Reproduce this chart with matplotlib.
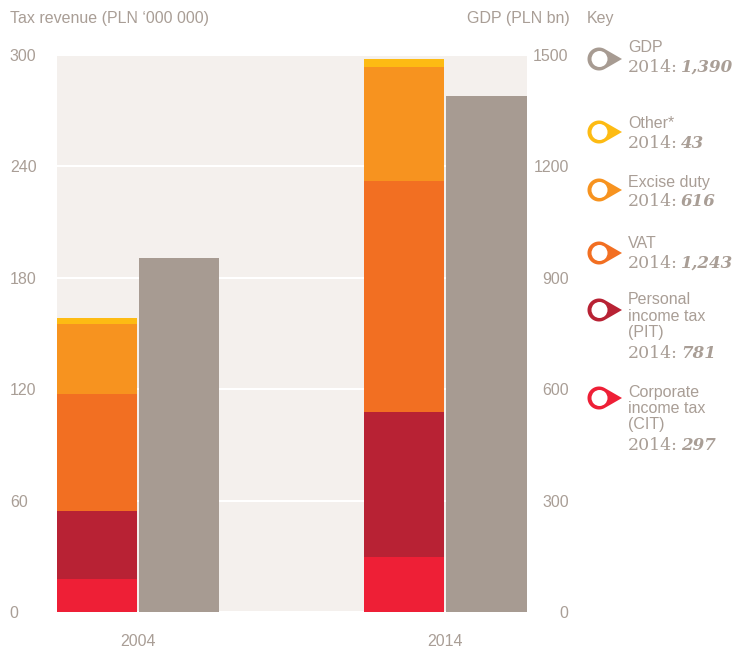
import numpy as np
import matplotlib
matplotlib.use("Agg")
from matplotlib import pyplot as plt
from matplotlib.patches import Polygon, Circle

years = ["2004", "2014"]
cit = [17.8, 29.7]
pit = [36.6, 78.1]
vat = [63.0, 124.3]
excise = [37.7, 61.6]
other = [3.2, 4.3]
gdp = [953, 1390]

tax_ticks = [0, 60, 120, 180, 240, 300]
gdp_ticks = [0, 300, 600, 900, 1200, 1500]

series = [("Corporate\nincome tax\n(CIT)", cit, "#ee1f36"),
          ("Personal\nincome tax\n(PIT)", pit, "#b82234"),
          ("VAT", vat, "#f26f22"),
          ("Excise duty", excise, "#f7931f"),
          ("Other*", other, "#fdbb13")]
gdp_color = "#a79b92"
txt = "#a99e96"
bg = "#f4f0ed"
sans = "Liberation Sans"

fig = plt.figure(figsize=(7.37, 6.49), dpi=100)
W, H = 737, 649
ax = fig.add_axes([57 / W, 1 - 612 / H, 470 / W, 557 / H])
ax2 = ax.twinx()

x = np.arange(len(years))
w = 80 / 307.5
g = 2 / 307.5
xs = x - w / 2 - g / 2
xg = x + w / 2 + g / 2

ax.set_facecolor(bg)
bottom = np.zeros(len(years))
for name, vals, col in series:
    ax.bar(xs, vals, w, bottom=bottom, color=col, linewidth=0, zorder=3)
    bottom += np.array(vals)
ax2.bar(xg, gdp, w, color=gdp_color, linewidth=0, zorder=3)

ax.set_xlim(-81 / 307.5, 1 + 81.5 / 307.5)
ax.set_ylim(0, 300)
ax2.set_ylim(0, 1500)
ax.set_yticks(tax_ticks)
ax2.set_yticks(gdp_ticks)
ax.set_xticks(x)
ax.set_xticklabels(years)
ax.grid(axis="y", color="white", linewidth=1.5, zorder=1)
ax.set_axisbelow(True)
for a in (ax, ax2):
    for s in a.spines.values():
        s.set_visible(False)
ax.tick_params(axis="both", length=0, labelcolor=txt, labelsize=11.5)
ax.tick_params(axis="y", pad=34)
ax.tick_params(axis="x", pad=16)
for t in ax.get_yticklabels() + ax.get_xticklabels():
    t.set_fontfamily(sans)
for t in ax.get_yticklabels():
    t.set_ha("left")
ax2.tick_params(axis="y", length=0, labelcolor=txt, labelsize=11.5, pad=30)
for t in ax2.get_yticklabels():
    t.set_ha("right")
    t.set_fontfamily(sans)

# overlay in pixel coordinates for titles and key
ov = fig.add_axes([0, 0, 1, 1], facecolor="none")
ov.set_xlim(0, W)
ov.set_ylim(H, 0)
ov.axis("off")

ov.text(10, 18, "Tax revenue (PLN \u2018000 000)", color=txt, fontsize=11.5,
        family=sans, va="center", ha="left")
ov.text(570, 18, "GDP (PLN bn)", color=txt, fontsize=11.5, family=sans,
        va="center", ha="right")
ov.text(587, 18, "Key", color=txt, fontsize=11.5, family=sans, va="center")


def pin(cx, cy, col, r=11.5, tip=23):
    th = np.arccos(r / tip)
    ang = np.linspace(th, 2 * np.pi - th, 60)
    pts = np.column_stack([cx + r * np.cos(ang), cy + r * np.sin(ang)])
    pts = np.vstack([pts, [cx + tip, cy]])
    ov.add_patch(Polygon(pts, closed=True, color=col, lw=0))
    ov.add_patch(Circle((cx + 0.5, cy), 8, color="white", lw=0))


renderer = fig.canvas.get_renderer()


def key(cy, label, col, val, ty):
    pin(599, cy, col)
    lines = label.split("\n")
    y = ty
    for ln in lines:
        ov.text(628, y, ln, color=txt, fontsize=11.5, family=sans, va="center")
        y += 16.5
    vy = y + 3.5
    t = ov.text(628, vy, "2014:", color=txt, fontsize=12.5, family="DejaVu Serif",
                va="center")
    bb = t.get_window_extent(renderer)
    x1 = ov.transData.inverted().transform((bb.x1, bb.y0))[0]
    ov.text(x1 + 3, vy, f"{val:,}", color=txt, fontsize=12, family="DejaVu Serif",
            weight="bold", style="italic", va="center")


key(59, "GDP", gdp_color, gdp[1], 47)
key_y = [398, 310, 253, 190, 132]
key_t = [392, 300, 243, 182, 123]
for (name, vals, col), cy, ty in zip(series, key_y, key_t):
    key(cy, name, col, int(round(vals[1] * 10)), ty)

fig.savefig("out.png", dpi=100)
